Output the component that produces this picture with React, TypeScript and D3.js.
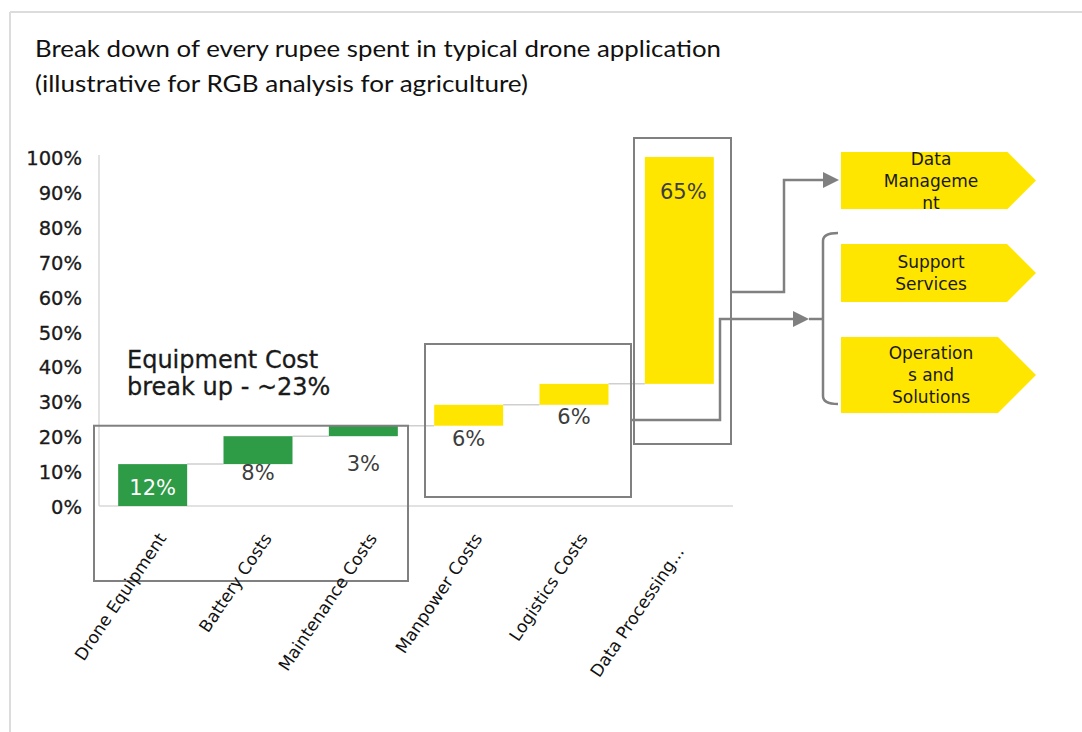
import React from "react";
import * as d3 from "d3";

const categories = [
  "Drone Equipment",
  "Battery Costs",
  "Maintenance Costs",
  "Manpower Costs",
  "Logistics Costs",
  "Data Processing...",
];
const startValues = [0, 12, 20, 23, 29, 35];
const endValues = [12, 20, 23, 29, 35, 100];
const valueLabels = ["12%", "8%", "3%", "6%", "6%", "65%"];
const labelAnchors = [5.2, 9.5, 12.3, 19.5, 25.8, 90];
const barGroups = ["equipment", "equipment", "equipment", "service", "service", "service"];
const yTicks = [0, 10, 20, 30, 40, 50, 60, 70, 80, 90, 100];
const chevronLabels = [
  ["Data", "Manageme", "nt"],
  ["Support", "Services"],
  ["Operation", "s and", "Solutions"],
];

const GREEN = "#2e9b46";
const YELLOW = "#ffe600";
const BOX = "#808080";
const FONT = "'DejaVu Sans', sans-serif";

export default function App() {
  const x = d3
    .scaleBand<string>()
    .domain(categories)
    .range([100, 732])
    .paddingInner(0.345)
    .paddingOuter(0.1725);
  const y = d3.scaleLinear().domain([0, 100]).range([506, 157]);

  const chevrons = [
    { top: 152, bottom: 209 },
    { top: 244, bottom: 302 },
    { top: 337, bottom: 413 },
  ];
  const chevLeft = 841;
  const chevTip = 1036;

  return (
    <svg
      width={1082}
      height={732}
      style={{ position: "absolute", left: 0, top: 0, background: "#fff" }}
    >
      {/* frame */}
      <line x1={10} y1={12} x2={1082} y2={12} stroke="#dcdcdc" strokeWidth={2} />
      <line x1={10} y1={12} x2={10} y2={732} stroke="#dcdcdc" strokeWidth={2} />

      {/* title */}
      <text x={35} y={57} fontFamily="Lato, sans-serif" fontSize={23} fill="#111" textLength={686} lengthAdjust="spacingAndGlyphs">
        Break down of every rupee spent in typical drone application
      </text>
      <text x={35} y={92} fontFamily="Lato, sans-serif" fontSize={23} fill="#111" textLength={493} lengthAdjust="spacingAndGlyphs">
        (illustrative for RGB analysis for agriculture)
      </text>

      {/* axes */}
      <line x1={99} y1={155} x2={99} y2={y(0)} stroke="#d9d9d9" strokeWidth={1.5} />
      <line x1={99} y1={y(0)} x2={733} y2={y(0)} stroke="#d9d9d9" strokeWidth={1.5} />
      {yTicks.map((t) => (
        <text
          key={t}
          x={82}
          y={y(t) + 1}
          dy="0.36em"
          textAnchor="end"
          fontFamily={FONT}
          fontSize={19.5}
          fill="#1a1a1a"
          stroke="#1a1a1a"
          strokeWidth={0.3}
        >
          {t}%
        </text>
      ))}

      {/* connectors */}
      {categories.slice(0, -1).map((c, i) => (
        <line
          key={"c" + i}
          x1={(x(c) as number) + x.bandwidth()}
          x2={x(categories[i + 1]) as number}
          y1={y(endValues[i])}
          y2={y(endValues[i])}
          stroke="#cfcfcf"
          strokeWidth={1.5}
        />
      ))}

      {/* bars */}
      {categories.map((c, i) => (
        <rect
          key={c}
          x={x(c)}
          width={x.bandwidth()}
          y={y(endValues[i])}
          height={y(startValues[i]) - y(endValues[i])}
          fill={barGroups[i] === "equipment" ? GREEN : YELLOW}
        />
      ))}

      {/* value labels */}
      {categories.map((c, i) => (
        <text
          key={"v" + c}
          x={(x(c) as number) + x.bandwidth() / 2 + (i === 5 ? 4 : 0)}
          y={y(labelAnchors[i])}
          dy="0.36em"
          textAnchor="middle"
          fontFamily={FONT}
          fontSize={21}
          fill={i === 0 ? "#ffffff" : "#3d3d3d"}
        >
          {valueLabels[i]}
        </text>
      ))}

      {/* equipment annotation */}
      <text x={127} y={368} fontFamily={FONT} fontSize={24} fill="#1a1a1a" stroke="#1a1a1a" strokeWidth={0.3}>
        Equipment Cost
      </text>
      <text x={127} y={395} fontFamily={FONT} fontSize={24} fill="#1a1a1a" stroke="#1a1a1a" strokeWidth={0.3}>
        break up - ~23%
      </text>

      {/* boxes */}
      <rect x={94} y={y(23)} width={314} height={581 - y(23)} fill="none" stroke={BOX} strokeWidth={2} />
      <rect x={425} y={344} width={206} height={153} fill="none" stroke={BOX} strokeWidth={2} />
      <rect x={634} y={138} width={97} height={306} fill="none" stroke={BOX} strokeWidth={2} />

      {/* arrows */}
      <path d="M731,292 L784,292 L784,180 L826,180" fill="none" stroke={BOX} strokeWidth={2.5} />
      <polygon points="823,172 839,180 823,188" fill={BOX} />
      <path d="M631,420 L720,420 L720,319 L796,319" fill="none" stroke={BOX} strokeWidth={2.5} />
      <polygon points="793,311 809,319 793,327" fill={BOX} />
      <path d="M809,319 L823,319" fill="none" stroke={BOX} strokeWidth={2.5} />
      <path
        d="M838,233 Q823,233 823,241 L823,396 Q823,404 838,404"
        fill="none"
        stroke={BOX}
        strokeWidth={2.5}
      />

      {/* chevrons */}
      {chevrons.map((cv, i) => {
        const mid = (cv.top + cv.bottom) / 2;
        const half = (cv.bottom - cv.top) / 2;
        const lines = chevronLabels[i];
        const lh = 22;
        return (
          <g key={"ch" + i}>
            <polygon
              points={`${chevLeft},${cv.top} ${chevTip - half},${cv.top} ${chevTip},${mid} ${chevTip - half},${cv.bottom} ${chevLeft},${cv.bottom}`}
              fill={YELLOW}
            />
            {lines.map((ln, j) => (
              <text
                key={j}
                x={931}
                y={mid + (j - (lines.length - 1) / 2) * lh}
                dy="0.36em"
                textAnchor="middle"
                fontFamily={FONT}
                fontSize={17}
                fill="#1a1a1a"
              >
                {ln}
              </text>
            ))}
          </g>
        );
      })}

      {/* x labels */}
      {categories.map((c) => {
        const lx = (x(c) as number) + x.bandwidth() / 2 + 9.5;
        const ly = 535;
        return (
          <text
            key={"x" + c}
            x={lx}
            y={ly}
            dx={c.endsWith("...") ? -16 : 0}
            dy="0.35em"
            textAnchor="end"
            transform={`rotate(-56 ${lx} ${ly})`}
            fontFamily={FONT}
            fontSize={17}
            fill="#111"
          >
            {c}
          </text>
        );
      })}
    </svg>
  );
}
